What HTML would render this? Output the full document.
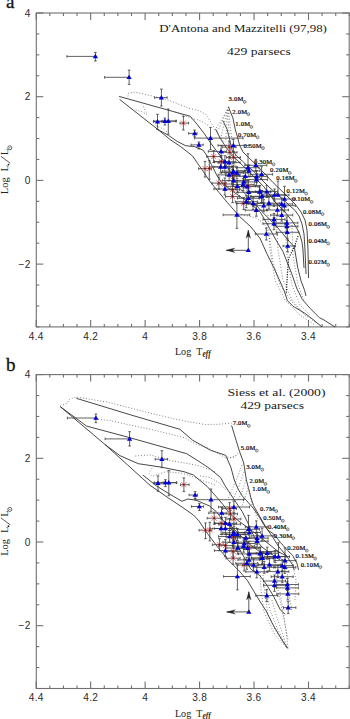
<!DOCTYPE html><html><head><meta charset="utf-8"><style>html,body{margin:0;padding:0;background:#fff;width:350px;height:719px;overflow:hidden}svg{display:block}.tl{font-family:"Liberation Sans",sans-serif;font-size:10.1px;letter-spacing:0.3px;fill:#2a2a2a}.al{font-family:"Liberation Serif",serif;font-size:10px;fill:#222}.pl{font-family:"Liberation Serif",serif;font-size:19px;fill:#111;stroke:#111;stroke-width:0.3px}.ml{font-family:"Liberation Serif",serif;font-size:6.6px;letter-spacing:0.2px;fill:#000;stroke:#000;stroke-width:0.2px}.tt{font-family:"Liberation Serif",serif;font-size:9.9px;fill:#1a1a1a}</style></head><body><svg width="350" height="719" viewBox="0 0 350 719">
<g stroke="#707070" stroke-width="1.1" fill="none"><rect x="36.3" y="13.0" width="312.9" height="313.9" fill="none" stroke="#707070" stroke-width="1.1"/><line x1="36.20" y1="13.0" x2="36.20" y2="20.0"/><line x1="36.20" y1="326.9" x2="36.20" y2="319.9"/><line x1="49.81" y1="13.0" x2="49.81" y2="16.0"/><line x1="49.81" y1="326.9" x2="49.81" y2="323.9"/><line x1="63.43" y1="13.0" x2="63.43" y2="16.0"/><line x1="63.43" y1="326.9" x2="63.43" y2="323.9"/><line x1="77.05" y1="13.0" x2="77.05" y2="16.0"/><line x1="77.05" y1="326.9" x2="77.05" y2="323.9"/><line x1="90.66" y1="13.0" x2="90.66" y2="20.0"/><line x1="90.66" y1="326.9" x2="90.66" y2="319.9"/><line x1="104.28" y1="13.0" x2="104.28" y2="16.0"/><line x1="104.28" y1="326.9" x2="104.28" y2="323.9"/><line x1="117.89" y1="13.0" x2="117.89" y2="16.0"/><line x1="117.89" y1="326.9" x2="117.89" y2="323.9"/><line x1="131.50" y1="13.0" x2="131.50" y2="16.0"/><line x1="131.50" y1="326.9" x2="131.50" y2="323.9"/><line x1="145.12" y1="13.0" x2="145.12" y2="20.0"/><line x1="145.12" y1="326.9" x2="145.12" y2="319.9"/><line x1="158.74" y1="13.0" x2="158.74" y2="16.0"/><line x1="158.74" y1="326.9" x2="158.74" y2="323.9"/><line x1="172.35" y1="13.0" x2="172.35" y2="16.0"/><line x1="172.35" y1="326.9" x2="172.35" y2="323.9"/><line x1="185.96" y1="13.0" x2="185.96" y2="16.0"/><line x1="185.96" y1="326.9" x2="185.96" y2="323.9"/><line x1="199.58" y1="13.0" x2="199.58" y2="20.0"/><line x1="199.58" y1="326.9" x2="199.58" y2="319.9"/><line x1="213.19" y1="13.0" x2="213.19" y2="16.0"/><line x1="213.19" y1="326.9" x2="213.19" y2="323.9"/><line x1="226.81" y1="13.0" x2="226.81" y2="16.0"/><line x1="226.81" y1="326.9" x2="226.81" y2="323.9"/><line x1="240.43" y1="13.0" x2="240.43" y2="16.0"/><line x1="240.43" y1="326.9" x2="240.43" y2="323.9"/><line x1="254.04" y1="13.0" x2="254.04" y2="20.0"/><line x1="254.04" y1="326.9" x2="254.04" y2="319.9"/><line x1="267.66" y1="13.0" x2="267.66" y2="16.0"/><line x1="267.66" y1="326.9" x2="267.66" y2="323.9"/><line x1="281.27" y1="13.0" x2="281.27" y2="16.0"/><line x1="281.27" y1="326.9" x2="281.27" y2="323.9"/><line x1="294.89" y1="13.0" x2="294.89" y2="16.0"/><line x1="294.89" y1="326.9" x2="294.89" y2="323.9"/><line x1="308.50" y1="13.0" x2="308.50" y2="20.0"/><line x1="308.50" y1="326.9" x2="308.50" y2="319.9"/><line x1="322.11" y1="13.0" x2="322.11" y2="16.0"/><line x1="322.11" y1="326.9" x2="322.11" y2="323.9"/><line x1="335.73" y1="13.0" x2="335.73" y2="16.0"/><line x1="335.73" y1="326.9" x2="335.73" y2="323.9"/><line x1="349.35" y1="13.0" x2="349.35" y2="16.0"/><line x1="349.35" y1="326.9" x2="349.35" y2="323.9"/><line x1="36.3" y1="13.00" x2="43.3" y2="13.00"/><line x1="349.2" y1="13.00" x2="342.2" y2="13.00"/><line x1="36.3" y1="33.93" x2="39.3" y2="33.93"/><line x1="349.2" y1="33.93" x2="346.2" y2="33.93"/><line x1="36.3" y1="54.85" x2="39.3" y2="54.85"/><line x1="349.2" y1="54.85" x2="346.2" y2="54.85"/><line x1="36.3" y1="75.78" x2="39.3" y2="75.78"/><line x1="349.2" y1="75.78" x2="346.2" y2="75.78"/><line x1="36.3" y1="96.70" x2="43.3" y2="96.70"/><line x1="349.2" y1="96.70" x2="342.2" y2="96.70"/><line x1="36.3" y1="117.62" x2="39.3" y2="117.62"/><line x1="349.2" y1="117.62" x2="346.2" y2="117.62"/><line x1="36.3" y1="138.55" x2="39.3" y2="138.55"/><line x1="349.2" y1="138.55" x2="346.2" y2="138.55"/><line x1="36.3" y1="159.47" x2="39.3" y2="159.47"/><line x1="349.2" y1="159.47" x2="346.2" y2="159.47"/><line x1="36.3" y1="180.40" x2="43.3" y2="180.40"/><line x1="349.2" y1="180.40" x2="342.2" y2="180.40"/><line x1="36.3" y1="201.33" x2="39.3" y2="201.33"/><line x1="349.2" y1="201.33" x2="346.2" y2="201.33"/><line x1="36.3" y1="222.25" x2="39.3" y2="222.25"/><line x1="349.2" y1="222.25" x2="346.2" y2="222.25"/><line x1="36.3" y1="243.18" x2="39.3" y2="243.18"/><line x1="349.2" y1="243.18" x2="346.2" y2="243.18"/><line x1="36.3" y1="264.10" x2="43.3" y2="264.10"/><line x1="349.2" y1="264.10" x2="342.2" y2="264.10"/><line x1="36.3" y1="285.02" x2="39.3" y2="285.02"/><line x1="349.2" y1="285.02" x2="346.2" y2="285.02"/><line x1="36.3" y1="305.95" x2="39.3" y2="305.95"/><line x1="349.2" y1="305.95" x2="346.2" y2="305.95"/><line x1="36.3" y1="326.88" x2="39.3" y2="326.88"/><line x1="349.2" y1="326.88" x2="346.2" y2="326.88"/></g>
<text x="30.7" y="16.7" class="tl" text-anchor="end">4</text>
<text x="30.7" y="100.4" class="tl" text-anchor="end">2</text>
<text x="30.7" y="184.1" class="tl" text-anchor="end">0</text>
<text x="30.7" y="267.8" class="tl" text-anchor="end">−2</text>
<text x="36.2" y="339.7" class="tl" text-anchor="middle">4.4</text>
<text x="90.7" y="339.7" class="tl" text-anchor="middle">4.2</text>
<text x="145.1" y="339.7" class="tl" text-anchor="middle">4</text>
<text x="199.6" y="339.7" class="tl" text-anchor="middle">3.8</text>
<text x="254.0" y="339.7" class="tl" text-anchor="middle">3.6</text>
<text x="308.5" y="339.7" class="tl" text-anchor="middle">3.4</text>
<text x="174.9" y="354.9" class="al" textLength="16.3" lengthAdjust="spacingAndGlyphs">Log</text><text x="196.2" y="354.9" class="al">T</text><text x="202.6" y="357.3" class="al" font-size="5.4" font-weight="bold" font-style="italic" textLength="8" lengthAdjust="spacingAndGlyphs">eff</text>
<g transform="translate(8.0,194.2) rotate(-90)"><text x="0" y="0" class="al" textLength="16.8" lengthAdjust="spacingAndGlyphs">Log</text><text x="23" y="0" class="al">L</text><text x="39.3" y="0" class="al">L</text></g>
<path d="M10.2 163.2L0.9 156.3" stroke="#222" stroke-width="0.75"/><circle cx="8.5" cy="164.6" r="0.9" fill="#222"/>
<circle cx="9.8" cy="147.8" r="2.0" fill="none" stroke="#222" stroke-width="0.7"/><circle cx="9.8" cy="147.8" r="0.5" fill="#222"/>
<text x="6" y="7.9" class="pl">a</text>
<polyline points="119.6,99.4 158.0,129.6 170.3,139.7 180.6,146.6 192.6,156.0 197.7,163.5 203.4,171.7 210.3,182.0 218.9,192.3 227.4,202.6 239.4,216.3 250.9,226.9 260.0,238.3 266.9,253.7 273.7,267.4 279.4,280.0 284.0,290.3 287.4,300.6 293.1,306.3 304.6,313.1 313.7,320.0 322.0,327.0" fill="none" stroke="#333" stroke-width="0.9" stroke-linejoin="round"/>
<polyline points="158.0,129.6 168.6,135.4 177.1,141.4 185.7,145.7 194.3,146.6 202.9,150.0 207.1,156.0 211.4,164.6 216.6,174.9 222.0,183.0 235.0,193.0 250.0,203.0 260.6,212.6 269.7,228.6 276.0,240.0 282.9,251.4 287.4,262.9 292.0,274.3 296.6,288.0 302.3,299.4 310.3,308.6 319.4,317.7 324.0,320.0 335.0,327.0" fill="none" stroke="#333" stroke-width="0.9" stroke-linejoin="round"/>
<polyline points="119.1,96.4 190.3,116.3 197.1,124.3 204.3,133.6 210.0,142.1 214.3,148.0 221.1,156.9 228.0,168.0 240.0,188.6 251.4,200.0 262.9,212.6 274.3,224.0 282.3,233.1 288.0,240.0 294.3,246.9 297.7,267.4 301.1,281.1 304.6,290.3 306.0,296.0" fill="none" stroke="#333" stroke-width="0.9" stroke-linejoin="round"/>
<polyline points="228.3,106.6 232.9,117.9 235.4,130.0 237.5,137.0 239.5,145.0 243.0,152.0 248.6,157.5 256.3,165.0 264.0,173.0 273.0,182.5 287.0,196.0 295.0,204.0 301.0,212.0 305.0,220.0 307.0,230.0 308.0,250.0 308.5,278.0" fill="none" stroke="#333" stroke-width="0.9" stroke-linejoin="round"/>
<polyline points="222.9,120.7 227.1,129.3 232.0,149.4 236.6,156.0 242.3,161.0 247.0,165.5 255.0,172.5 262.0,180.0 270.0,188.0 277.0,194.0 285.7,202.0 294.9,210.3 299.0,216.0 302.0,224.0 304.0,234.0 305.0,250.0 306.0,274.0" fill="none" stroke="#333" stroke-width="0.9" stroke-linejoin="round"/>
<polyline points="215.7,129.3 220.0,137.9 226.4,147.9 235.0,157.9 243.6,166.4 255.0,177.9 263.6,186.4 275.0,202.0 285.0,212.0 293.0,222.0 299.0,232.0 302.0,242.0 303.0,250.0 304.0,268.0" fill="none" stroke="#333" stroke-width="0.9" stroke-linejoin="round"/>
<polyline points="127.9,96.4 128.6,92.9 134.3,92.1 148.6,95.0 170.0,100.7 190.0,108.6 198.6,110.7 205.7,114.3 210.0,120.7 214.3,127.9 219.4,136.0 225.0,143.0" fill="none" stroke="#555" stroke-width="0.8" stroke-dasharray="0.9 2"/>
<polyline points="135.7,110.0 141.4,111.4 146.4,114.3 148.6,116.4" fill="none" stroke="#555" stroke-width="0.8" stroke-dasharray="0.9 2"/>
<polyline points="155.7,125.7 162.9,128.6 168.6,132.9" fill="none" stroke="#555" stroke-width="0.8" stroke-dasharray="0.9 2"/>
<polyline points="175.0,112.0 190.0,117.9 198.6,120.0 204.3,122.9 209.3,126.4" fill="none" stroke="#555" stroke-width="0.8" stroke-dasharray="0.9 2"/>
<polyline points="143.6,106.4 145.0,110.0 147.1,113.6" fill="none" stroke="#555" stroke-width="0.8" stroke-dasharray="0.9 2"/>
<polyline points="228.6,107.1 224.3,116.4 218.6,129.3 216.4,132.1" fill="none" stroke="#555" stroke-width="0.8" stroke-dasharray="0.9 2"/>
<polyline points="228.6,107.1 227.1,117.9 226.4,129.3 225.7,142.1" fill="none" stroke="#555" stroke-width="0.8" stroke-dasharray="0.9 2"/>
<polyline points="228.6,107.1 230.0,125.0 232.0,140.0" fill="none" stroke="#555" stroke-width="0.8" stroke-dasharray="0.9 2"/>
<polyline points="228.6,107.1 221.0,121.0 214.0,131.0" fill="none" stroke="#555" stroke-width="0.8" stroke-dasharray="0.9 2"/>
<polyline points="228.6,107.1 225.0,120.0 222.0,133.0 220.0,140.0" fill="none" stroke="#555" stroke-width="0.8" stroke-dasharray="0.9 2"/>
<polyline points="228.6,107.1 228.0,118.0 229.0,132.0 230.0,145.0" fill="none" stroke="#555" stroke-width="0.8" stroke-dasharray="0.9 2"/>
<polyline points="268.0,215.0 270.0,250.0 275.0,280.0 285.0,300.0 300.0,315.0 315.0,325.0" fill="none" stroke="#555" stroke-width="0.8" stroke-dasharray="0.9 2"/>
<polyline points="276.0,215.0 278.0,250.0 283.0,280.0 292.0,300.0 305.0,315.0 318.0,324.0" fill="none" stroke="#555" stroke-width="0.8" stroke-dasharray="0.9 2"/>
<polyline points="285.0,225.0 287.0,255.0 292.0,285.0 300.0,305.0 310.0,315.0" fill="none" stroke="#555" stroke-width="0.8" stroke-dasharray="0.9 2"/>
<polyline points="292.0,225.0 293.0,255.0 298.0,285.0 304.0,300.0" fill="none" stroke="#555" stroke-width="0.8" stroke-dasharray="0.9 2"/>
<polyline points="238.6,213.7 256.6,218.0 266.0,226.0 270.0,240.0 273.0,262.0 280.0,285.0 292.0,302.0 305.0,315.0" fill="none" stroke="#555" stroke-width="0.8" stroke-dasharray="0.9 2"/>
<polyline points="298.0,236.0 294.3,246.9 288.6,258.3 287.4,274.3 286.3,292.6" fill="none" stroke="#222" stroke-width="1.2" stroke-dasharray="1.2 1.3"/>
<text x="228.6" y="101.4" class="ml">3.0M</text>
<circle cx="244.7" cy="101.9" r="1.4" fill="none" stroke="#222" stroke-width="0.6"/><circle cx="244.7" cy="101.9" r="0.35" fill="#222"/>
<text x="232.3" y="113.7" class="ml">2.0M</text>
<circle cx="248.4" cy="114.2" r="1.4" fill="none" stroke="#222" stroke-width="0.6"/><circle cx="248.4" cy="114.2" r="0.35" fill="#222"/>
<text x="235.3" y="126.4" class="ml">1.0M</text>
<circle cx="251.4" cy="126.9" r="1.4" fill="none" stroke="#222" stroke-width="0.6"/><circle cx="251.4" cy="126.9" r="0.35" fill="#222"/>
<text x="238.0" y="136.8" class="ml">0.70M</text>
<circle cx="257.6" cy="137.3" r="1.4" fill="none" stroke="#222" stroke-width="0.6"/><circle cx="257.6" cy="137.3" r="0.35" fill="#222"/>
<text x="243.4" y="147.6" class="ml">0.50M</text>
<circle cx="263.0" cy="148.1" r="1.4" fill="none" stroke="#222" stroke-width="0.6"/><circle cx="263.0" cy="148.1" r="0.35" fill="#222"/>
<text x="254.0" y="163.8" class="ml">0.30M</text>
<circle cx="273.6" cy="164.3" r="1.4" fill="none" stroke="#222" stroke-width="0.6"/><circle cx="273.6" cy="164.3" r="0.35" fill="#222"/>
<text x="270.1" y="172.4" class="ml">0.20M</text>
<circle cx="289.7" cy="172.9" r="1.4" fill="none" stroke="#222" stroke-width="0.6"/><circle cx="289.7" cy="172.9" r="0.35" fill="#222"/>
<text x="276.3" y="180.4" class="ml">0.16M</text>
<circle cx="295.9" cy="180.9" r="1.4" fill="none" stroke="#222" stroke-width="0.6"/><circle cx="295.9" cy="180.9" r="0.35" fill="#222"/>
<text x="286.6" y="193.1" class="ml">0.12M</text>
<circle cx="306.2" cy="193.6" r="1.4" fill="none" stroke="#222" stroke-width="0.6"/><circle cx="306.2" cy="193.6" r="0.35" fill="#222"/>
<text x="292.0" y="201.4" class="ml">0.10M</text>
<circle cx="311.6" cy="201.9" r="1.4" fill="none" stroke="#222" stroke-width="0.6"/><circle cx="311.6" cy="201.9" r="0.35" fill="#222"/>
<text x="303.0" y="213.6" class="ml">0.08M</text>
<circle cx="322.6" cy="214.1" r="1.4" fill="none" stroke="#222" stroke-width="0.6"/><circle cx="322.6" cy="214.1" r="0.35" fill="#222"/>
<text x="308.6" y="226.4" class="ml">0.06M</text>
<circle cx="328.2" cy="226.9" r="1.4" fill="none" stroke="#222" stroke-width="0.6"/><circle cx="328.2" cy="226.9" r="0.35" fill="#222"/>
<text x="308.6" y="243.0" class="ml">0.04M</text>
<circle cx="328.2" cy="243.5" r="1.4" fill="none" stroke="#222" stroke-width="0.6"/><circle cx="328.2" cy="243.5" r="0.35" fill="#222"/>
<text x="308.6" y="264.3" class="ml">0.02M</text>
<circle cx="328.2" cy="264.8" r="1.4" fill="none" stroke="#222" stroke-width="0.6"/><circle cx="328.2" cy="264.8" r="0.35" fill="#222"/>
<path d="M248.3 250.3V230.3M248.3 250.3H226.3" fill="none" stroke="#333" stroke-width="0.8"/>
<path d="M248.3 230.0L246.0 238.3L248.3 235.8L250.60000000000002 238.3Z M226.0 250.3L234.8 248.10000000000002L232.3 250.3L234.8 252.5Z" fill="#222" stroke="#222" stroke-width="0.3"/>
<path d="M66.9 56.4H95.4M95.4 52.4V61.0M94.1 52.4h2.6M94.1 61.0h2.6M66.9 55.1v2.6M95.4 55.1v2.6M104.6 77.3H129.1M129.1 70.1V84.4M127.8 70.1h2.6M127.8 84.4h2.6M104.6 76.0v2.6M129.1 76.0v2.6M154.6 97.6H167.1M161.4 89.1V106.0M160.1 89.1h2.6M160.1 106.0h2.6M154.6 96.3v2.6M167.1 96.3v2.6M153.4 121.6H161.4M157.5 114.3V129.6M156.2 114.3h2.6M156.2 129.6h2.6M153.4 120.3v2.6M161.4 120.3v2.6M153.9 121.1H175.9M164.9 118.1V125.0M163.6 118.1h2.6M163.6 125.0h2.6M153.9 119.8v2.6M175.9 119.8v2.6M162.6 121.1H176.3M168.3 109.0V134.1M167.0 109.0h2.6M167.0 134.1h2.6M162.6 119.8v2.6M176.3 119.8v2.6M180.0 123.1H188.6M183.4 116.3V130.0M182.1 116.3h2.6M182.1 130.0h2.6M180.0 121.8v2.6M188.6 121.8v2.6M188.6 133.4H197.1M194.6 130.0V136.9M193.3 130.0h2.6M193.3 136.9h2.6M188.6 132.1v2.6M197.1 132.1v2.6M191.1 144.9H203.1M198.9 142.0V148.9M197.6 142.0h2.6M197.6 148.9h2.6M191.1 143.6v2.6M203.1 143.6v2.6M194.6 138.1H243.0M210.5 127.4V149.7M209.2 127.4h2.6M209.2 149.7h2.6M194.6 136.8v2.6M243.0 136.8v2.6M208.3 151.4H226.3M221.1 145.4V157.4M219.8 145.4h2.6M219.8 157.4h2.6M208.3 150.1v2.6M226.3 150.1v2.6M218.0 145.4H249.0M233.4 139.4V151.4M232.1 139.4h2.6M232.1 151.4h2.6M218.0 144.1v2.6M249.0 144.1v2.6M213.9 161.7H235.9M224.9 155.7V167.7M223.6 155.7h2.6M223.6 167.7h2.6M213.9 160.4v2.6M235.9 160.4v2.6M218.1 162.6H240.1M229.1 156.6V168.6M227.8 156.6h2.6M227.8 168.6h2.6M218.1 161.3v2.6M240.1 161.3v2.6M209.6 166.9H231.6M220.6 160.9V172.9M219.3 160.9h2.6M219.3 172.9h2.6M209.6 165.6v2.6M231.6 165.6v2.6M213.9 166.9H235.9M224.9 160.9V172.9M223.6 160.9h2.6M223.6 172.9h2.6M213.9 165.6v2.6M235.9 165.6v2.6M222.4 171.1H244.4M233.4 165.1V177.1M232.1 165.1h2.6M232.1 177.1h2.6M222.4 169.8v2.6M244.4 169.8v2.6M225.9 172.9H247.9M236.9 166.9V178.9M235.6 166.9h2.6M235.6 178.9h2.6M225.9 171.6v2.6M247.9 171.6v2.6M218.1 174.9H240.1M229.1 168.9V180.9M227.8 168.9h2.6M227.8 180.9h2.6M218.1 173.6v2.6M240.1 173.6v2.6M222.4 180.6H244.4M233.4 174.6V186.6M232.1 174.6h2.6M232.1 186.6h2.6M222.4 179.3v2.6M244.4 179.3v2.6M237.0 167.7H259.0M248.0 153.7V169.1M246.7 153.7h2.6M246.7 169.1h2.6M237.0 166.4v2.6M259.0 166.4v2.6M237.9 170.9H259.9M248.9 164.9V176.9M247.6 164.9h2.6M247.6 176.9h2.6M237.9 169.6v2.6M259.9 169.6v2.6M244.8 165.3H266.8M255.8 159.3V171.3M254.5 159.3h2.6M254.5 171.3h2.6M244.8 164.0v2.6M266.8 164.0v2.6M234.4 176.3H256.4M245.4 170.3V182.3M244.1 170.3h2.6M244.1 182.3h2.6M234.4 175.0v2.6M256.4 175.0v2.6M245.6 176.6H267.6M256.6 170.6V182.6M255.3 170.6h2.6M255.3 182.6h2.6M245.6 175.3v2.6M267.6 175.3v2.6M245.6 179.6H267.6M256.6 173.6V185.6M255.3 173.6h2.6M255.3 185.6h2.6M245.6 178.3v2.6M267.6 178.3v2.6M232.7 181.9H254.7M243.7 175.9V187.9M242.4 175.9h2.6M242.4 187.9h2.6M232.7 180.6v2.6M254.7 180.6v2.6M232.2 184.6H254.2M243.2 178.6V190.6M241.9 178.6h2.6M241.9 190.6h2.6M232.2 183.3v2.6M254.2 183.3v2.6M226.2 186.4H248.2M237.2 180.4V192.4M235.9 180.4h2.6M235.9 192.4h2.6M226.2 185.1v2.6M248.2 185.1v2.6M213.9 189.0H235.9M224.9 183.0V195.0M223.6 183.0h2.6M223.6 195.0h2.6M213.9 187.7v2.6M235.9 187.7v2.6M236.1 186.6H258.1M247.1 180.6V192.6M245.8 180.6h2.6M245.8 192.6h2.6M236.1 185.3v2.6M258.1 185.3v2.6M250.6 174.3H272.6M261.6 166.6V179.4M260.3 166.6h2.6M260.3 179.4h2.6M250.6 173.0v2.6M272.6 173.0v2.6M248.9 191.4H270.9M259.9 185.4V197.4M258.6 185.4h2.6M258.6 197.4h2.6M248.9 190.1v2.6M270.9 190.1v2.6M255.7 191.6H277.7M266.7 185.6V197.6M265.4 185.6h2.6M265.4 197.6h2.6M255.7 190.3v2.6M277.7 190.3v2.6M237.8 192.3H259.8M248.8 186.3V198.3M247.5 186.3h2.6M247.5 198.3h2.6M237.8 191.0v2.6M259.8 191.0v2.6M263.6 195.0H285.6M274.6 189.0V201.0M273.3 189.0h2.6M273.3 201.0h2.6M263.6 193.7v2.6M285.6 193.7v2.6M267.0 195.0H289.0M278.0 181.1V194.9M276.7 181.1h2.6M276.7 194.9h2.6M267.0 193.7v2.6M289.0 193.7v2.6M250.6 196.6H272.6M261.6 190.6V202.6M260.3 190.6h2.6M260.3 202.6h2.6M250.6 195.3v2.6M272.6 195.3v2.6M237.4 198.3H259.4M248.4 192.3V204.3M247.1 192.3h2.6M247.1 204.3h2.6M237.4 197.0v2.6M259.4 197.0v2.6M273.5 199.0H295.5M284.5 186.3V199.0M283.2 186.3h2.6M283.2 199.0h2.6M273.5 197.7v2.6M295.5 197.7v2.6M235.3 201.7H257.3M246.3 195.7V207.7M245.0 195.7h2.6M245.0 207.7h2.6M235.3 200.4v2.6M257.3 200.4v2.6M242.1 203.4H264.1M253.1 197.4V209.4M251.8 197.4h2.6M251.8 209.4h2.6M242.1 202.1v2.6M264.1 202.1v2.6M245.3 210.2H267.3M256.3 204.2V216.2M255.0 204.2h2.6M255.0 216.2h2.6M245.3 208.9v2.6M267.3 208.9v2.6M223.1 214.9H249.7M236.9 203.4V228.3M235.6 203.4h2.6M235.6 228.3h2.6M223.1 213.6v2.6M249.7 213.6v2.6M257.9 203.1H279.9M268.9 197.1V209.1M267.6 197.1h2.6M267.6 209.1h2.6M257.9 201.8v2.6M279.9 201.8v2.6M252.7 205.7H274.7M263.7 199.7V211.7M262.4 199.7h2.6M262.4 211.7h2.6M252.7 204.4v2.6M274.7 204.4v2.6M270.7 204.0H292.7M281.7 198.0V210.0M280.4 198.0h2.6M280.4 210.0h2.6M270.7 202.7v2.6M292.7 202.7v2.6M273.3 205.7H295.3M284.3 199.7V211.7M283.0 199.7h2.6M283.0 211.7h2.6M273.3 204.4v2.6M295.3 204.4v2.6M266.4 210.0H288.4M277.4 204.0V216.0M276.1 204.0h2.6M276.1 216.0h2.6M266.4 208.7v2.6M288.4 208.7v2.6M270.7 215.1H292.7M281.7 209.1V221.1M280.4 209.1h2.6M280.4 221.1h2.6M270.7 213.8v2.6M292.7 213.8v2.6M263.0 219.4H285.0M274.0 213.4V225.4M272.7 213.4h2.6M272.7 225.4h2.6M263.0 218.1v2.6M285.0 218.1v2.6M263.0 223.7H285.0M274.0 217.7V229.7M272.7 217.7h2.6M272.7 229.7h2.6M263.0 222.4v2.6M285.0 222.4v2.6M275.9 222.9H297.9M286.9 216.9V228.9M285.6 216.9h2.6M285.6 228.9h2.6M275.9 221.6v2.6M297.9 221.6v2.6M275.9 226.3H297.9M286.9 220.3V232.3M285.6 220.3h2.6M285.6 232.3h2.6M275.9 225.0v2.6M297.9 225.0v2.6M276.3 232.3H298.3M287.3 226.3V238.3M286.0 226.3h2.6M286.0 238.3h2.6M276.3 231.0v2.6M298.3 231.0v2.6M255.3 234.0H277.3M266.3 228.0V240.0M265.0 228.0h2.6M265.0 240.0h2.6M255.3 232.7v2.6M277.3 232.7v2.6M283.0 246.0H295.4M287.7 240.0V252.0M286.4 240.0h2.6M286.4 252.0h2.6M283.0 244.7v2.6M295.4 244.7v2.6M248.4 192.0H270.4M259.4 186.0V198.0M258.1 186.0h2.6M258.1 198.0h2.6M248.4 190.7v2.6M270.4 190.7v2.6M251.0 196.3H273.0M262.0 190.3V202.3M260.7 190.3h2.6M260.7 202.3h2.6M251.0 195.0v2.6M273.0 195.0v2.6M221.6 172.6H243.6M232.6 166.6V178.6M231.3 166.6h2.6M231.3 178.6h2.6M221.6 171.3v2.6M243.6 171.3v2.6M222.1 147.1H236.1M229.1 141.1V153.1M227.8 141.1h2.6M227.8 153.1h2.6M222.1 145.8v2.6M236.1 145.8v2.6M223.0 152.3H237.0M230.0 146.3V158.3M228.7 146.3h2.6M228.7 158.3h2.6M223.0 151.0v2.6M237.0 151.0v2.6M226.4 157.4H240.4M233.4 151.4V163.4M232.1 151.4h2.6M232.1 163.4h2.6M226.4 156.1v2.6M240.4 156.1v2.6M206.7 156.6H220.7M213.7 150.6V162.6M212.4 150.6h2.6M212.4 162.6h2.6M206.7 155.3v2.6M220.7 155.3v2.6M214.4 161.7H228.4M221.4 155.7V167.7M220.1 155.7h2.6M220.1 167.7h2.6M214.4 160.4v2.6M228.4 160.4v2.6M198.6 168.6H211.4M205.0 161.4V177.1M203.7 161.4h2.6M203.7 177.1h2.6M198.6 167.3v2.6M211.4 167.3v2.6M209.3 168.6H209.3M209.3 160.7V179.3M208.0 160.7h2.6M208.0 179.3h2.6M209.3 167.3v2.6M209.3 167.3v2.6M225.6 175.4H239.6M232.6 169.4V181.4M231.3 169.4h2.6M231.3 181.4h2.6M225.6 174.1v2.6M239.6 174.1v2.6M211.9 183.1H225.9M218.9 177.1V189.1M217.6 177.1h2.6M217.6 189.1h2.6M211.9 181.8v2.6M225.9 181.8v2.6M217.9 184.0H231.9M224.9 178.0V190.0M223.6 178.0h2.6M223.6 190.0h2.6M217.9 182.7v2.6M231.9 182.7v2.6M241.5 186.0H255.5M248.5 180.0V192.0M247.2 180.0h2.6M247.2 192.0h2.6M241.5 184.7v2.6M255.5 184.7v2.6M225.6 189.7H239.6M232.6 183.7V195.7M231.3 183.7h2.6M231.3 195.7h2.6M225.6 188.4v2.6M239.6 188.4v2.6M225.6 196.6H239.6M232.6 190.6V202.6M231.3 190.6h2.6M231.3 202.6h2.6M225.6 195.3v2.6M239.6 195.3v2.6M236.7 203.4H250.7M243.7 197.4V209.4M242.4 197.4h2.6M242.4 209.4h2.6M236.7 202.1v2.6M250.7 202.1v2.6" fill="none" stroke="#3a3a3a" stroke-width="0.8"/>
<path d="M180.9 120.6L185.9 125.6M185.9 120.6L180.9 125.6M226.6 144.6L231.6 149.6M231.6 144.6L226.6 149.6M227.5 149.8L232.5 154.8M232.5 149.8L227.5 154.8M230.9 154.9L235.9 159.9M235.9 154.9L230.9 159.9M211.2 154.1L216.2 159.1M216.2 154.1L211.2 159.1M218.9 159.2L223.9 164.2M223.9 159.2L218.9 164.2M202.5 166.1L207.5 171.1M207.5 166.1L202.5 171.1M206.8 166.1L211.8 171.1M211.8 166.1L206.8 171.1M230.1 172.9L235.1 177.9M235.1 172.9L230.1 177.9M216.4 180.6L221.4 185.6M221.4 180.6L216.4 185.6M222.4 181.5L227.4 186.5M227.4 181.5L222.4 186.5M246.0 183.5L251.0 188.5M251.0 183.5L246.0 188.5M230.1 187.2L235.1 192.2M235.1 187.2L230.1 192.2M230.1 194.1L235.1 199.1M235.1 194.1L230.1 199.1M241.2 200.9L246.2 205.9M246.2 200.9L241.2 205.9" fill="none" stroke="#f06a6a" stroke-width="1"/>
<circle cx="183.4" cy="123.1" r="0.9" fill="#700"/><circle cx="229.1" cy="147.1" r="0.9" fill="#700"/><circle cx="230.0" cy="152.3" r="0.9" fill="#700"/><circle cx="233.4" cy="157.4" r="0.9" fill="#700"/><circle cx="213.7" cy="156.6" r="0.9" fill="#700"/><circle cx="221.4" cy="161.7" r="0.9" fill="#700"/><circle cx="205.0" cy="168.6" r="0.9" fill="#700"/><circle cx="209.3" cy="168.6" r="0.9" fill="#700"/><circle cx="232.6" cy="175.4" r="0.9" fill="#700"/><circle cx="218.9" cy="183.1" r="0.9" fill="#700"/><circle cx="224.9" cy="184.0" r="0.9" fill="#700"/><circle cx="248.5" cy="186.0" r="0.9" fill="#700"/><circle cx="232.6" cy="189.7" r="0.9" fill="#700"/><circle cx="232.6" cy="196.6" r="0.9" fill="#700"/><circle cx="243.7" cy="203.4" r="0.9" fill="#700"/>
<path d="M95.4 53.8L98.0 58.2L92.8 58.2ZM129.1 74.7L131.7 79.1L126.5 79.1ZM161.4 95.0L164.0 99.4L158.8 99.4ZM157.5 119.0L160.1 123.4L154.9 123.4ZM164.9 118.5L167.5 122.9L162.3 122.9ZM168.3 118.5L170.9 122.9L165.7 122.9ZM194.6 130.8L197.2 135.2L192.0 135.2ZM198.9 142.3L201.5 146.7L196.3 146.7ZM210.5 135.5L213.1 139.9L207.9 139.9ZM221.1 148.8L223.7 153.2L218.5 153.2ZM233.4 142.8L236.0 147.2L230.8 147.2ZM224.9 159.1L227.5 163.5L222.3 163.5ZM229.1 160.0L231.7 164.4L226.5 164.4ZM220.6 164.3L223.2 168.7L218.0 168.7ZM224.9 164.3L227.5 168.7L222.3 168.7ZM233.4 168.5L236.0 172.9L230.8 172.9ZM236.9 170.3L239.5 174.7L234.3 174.7ZM229.1 172.3L231.7 176.7L226.5 176.7ZM233.4 178.0L236.0 182.4L230.8 182.4ZM248.0 165.1L250.6 169.5L245.4 169.5ZM248.9 168.3L251.5 172.7L246.3 172.7ZM255.8 162.7L258.4 167.1L253.2 167.1ZM245.4 173.7L248.0 178.1L242.8 178.1ZM256.6 174.0L259.2 178.4L254.0 178.4ZM256.6 177.0L259.2 181.4L254.0 181.4ZM243.7 179.3L246.3 183.7L241.1 183.7ZM243.2 182.0L245.8 186.4L240.6 186.4ZM237.2 183.8L239.8 188.2L234.6 188.2ZM224.9 186.4L227.5 190.8L222.3 190.8ZM247.1 184.0L249.7 188.4L244.5 188.4ZM261.6 171.7L264.2 176.1L259.0 176.1ZM259.9 188.8L262.5 193.2L257.3 193.2ZM266.7 189.0L269.3 193.4L264.1 193.4ZM248.8 189.7L251.4 194.1L246.2 194.1ZM274.6 192.4L277.2 196.8L272.0 196.8ZM278.0 192.4L280.6 196.8L275.4 196.8ZM261.6 194.0L264.2 198.4L259.0 198.4ZM248.4 195.7L251.0 200.1L245.8 200.1ZM284.5 196.4L287.1 200.8L281.9 200.8ZM246.3 199.1L248.9 203.5L243.7 203.5ZM253.1 200.8L255.7 205.2L250.5 205.2ZM256.3 207.6L258.9 212.0L253.7 212.0ZM236.9 212.3L239.5 216.7L234.3 216.7ZM268.9 200.5L271.5 204.9L266.3 204.9ZM263.7 203.1L266.3 207.5L261.1 207.5ZM281.7 201.4L284.3 205.8L279.1 205.8ZM284.3 203.1L286.9 207.5L281.7 207.5ZM277.4 207.4L280.0 211.8L274.8 211.8ZM281.7 212.5L284.3 216.9L279.1 216.9ZM274.0 216.8L276.6 221.2L271.4 221.2ZM274.0 221.1L276.6 225.5L271.4 225.5ZM286.9 220.3L289.5 224.7L284.3 224.7ZM286.9 223.7L289.5 228.1L284.3 228.1ZM287.3 229.7L289.9 234.1L284.7 234.1ZM266.3 231.4L268.9 235.8L263.7 235.8ZM287.7 243.4L290.3 247.8L285.1 247.8ZM259.4 189.4L262.0 193.8L256.8 193.8ZM262.0 193.7L264.6 198.1L259.4 198.1ZM232.6 170.0L235.2 174.4L230.0 174.4ZM248.3 247.7L250.9 252.1L245.7 252.1Z" fill="#0000dc" stroke="none"/>
<g stroke="#707070" stroke-width="1.1" fill="none"><rect x="36.3" y="374.6" width="312.9" height="313.9" fill="none" stroke="#707070" stroke-width="1.1"/><line x1="36.20" y1="374.6" x2="36.20" y2="381.6"/><line x1="36.20" y1="688.5" x2="36.20" y2="681.5"/><line x1="49.81" y1="374.6" x2="49.81" y2="377.6"/><line x1="49.81" y1="688.5" x2="49.81" y2="685.5"/><line x1="63.43" y1="374.6" x2="63.43" y2="377.6"/><line x1="63.43" y1="688.5" x2="63.43" y2="685.5"/><line x1="77.05" y1="374.6" x2="77.05" y2="377.6"/><line x1="77.05" y1="688.5" x2="77.05" y2="685.5"/><line x1="90.66" y1="374.6" x2="90.66" y2="381.6"/><line x1="90.66" y1="688.5" x2="90.66" y2="681.5"/><line x1="104.28" y1="374.6" x2="104.28" y2="377.6"/><line x1="104.28" y1="688.5" x2="104.28" y2="685.5"/><line x1="117.89" y1="374.6" x2="117.89" y2="377.6"/><line x1="117.89" y1="688.5" x2="117.89" y2="685.5"/><line x1="131.50" y1="374.6" x2="131.50" y2="377.6"/><line x1="131.50" y1="688.5" x2="131.50" y2="685.5"/><line x1="145.12" y1="374.6" x2="145.12" y2="381.6"/><line x1="145.12" y1="688.5" x2="145.12" y2="681.5"/><line x1="158.74" y1="374.6" x2="158.74" y2="377.6"/><line x1="158.74" y1="688.5" x2="158.74" y2="685.5"/><line x1="172.35" y1="374.6" x2="172.35" y2="377.6"/><line x1="172.35" y1="688.5" x2="172.35" y2="685.5"/><line x1="185.96" y1="374.6" x2="185.96" y2="377.6"/><line x1="185.96" y1="688.5" x2="185.96" y2="685.5"/><line x1="199.58" y1="374.6" x2="199.58" y2="381.6"/><line x1="199.58" y1="688.5" x2="199.58" y2="681.5"/><line x1="213.19" y1="374.6" x2="213.19" y2="377.6"/><line x1="213.19" y1="688.5" x2="213.19" y2="685.5"/><line x1="226.81" y1="374.6" x2="226.81" y2="377.6"/><line x1="226.81" y1="688.5" x2="226.81" y2="685.5"/><line x1="240.43" y1="374.6" x2="240.43" y2="377.6"/><line x1="240.43" y1="688.5" x2="240.43" y2="685.5"/><line x1="254.04" y1="374.6" x2="254.04" y2="381.6"/><line x1="254.04" y1="688.5" x2="254.04" y2="681.5"/><line x1="267.66" y1="374.6" x2="267.66" y2="377.6"/><line x1="267.66" y1="688.5" x2="267.66" y2="685.5"/><line x1="281.27" y1="374.6" x2="281.27" y2="377.6"/><line x1="281.27" y1="688.5" x2="281.27" y2="685.5"/><line x1="294.89" y1="374.6" x2="294.89" y2="377.6"/><line x1="294.89" y1="688.5" x2="294.89" y2="685.5"/><line x1="308.50" y1="374.6" x2="308.50" y2="381.6"/><line x1="308.50" y1="688.5" x2="308.50" y2="681.5"/><line x1="322.11" y1="374.6" x2="322.11" y2="377.6"/><line x1="322.11" y1="688.5" x2="322.11" y2="685.5"/><line x1="335.73" y1="374.6" x2="335.73" y2="377.6"/><line x1="335.73" y1="688.5" x2="335.73" y2="685.5"/><line x1="349.35" y1="374.6" x2="349.35" y2="377.6"/><line x1="349.35" y1="688.5" x2="349.35" y2="685.5"/><line x1="36.3" y1="374.60" x2="43.3" y2="374.60"/><line x1="349.2" y1="374.60" x2="342.2" y2="374.60"/><line x1="36.3" y1="395.53" x2="39.3" y2="395.53"/><line x1="349.2" y1="395.53" x2="346.2" y2="395.53"/><line x1="36.3" y1="416.45" x2="39.3" y2="416.45"/><line x1="349.2" y1="416.45" x2="346.2" y2="416.45"/><line x1="36.3" y1="437.38" x2="39.3" y2="437.38"/><line x1="349.2" y1="437.38" x2="346.2" y2="437.38"/><line x1="36.3" y1="458.30" x2="43.3" y2="458.30"/><line x1="349.2" y1="458.30" x2="342.2" y2="458.30"/><line x1="36.3" y1="479.23" x2="39.3" y2="479.23"/><line x1="349.2" y1="479.23" x2="346.2" y2="479.23"/><line x1="36.3" y1="500.15" x2="39.3" y2="500.15"/><line x1="349.2" y1="500.15" x2="346.2" y2="500.15"/><line x1="36.3" y1="521.08" x2="39.3" y2="521.08"/><line x1="349.2" y1="521.08" x2="346.2" y2="521.08"/><line x1="36.3" y1="542.00" x2="43.3" y2="542.00"/><line x1="349.2" y1="542.00" x2="342.2" y2="542.00"/><line x1="36.3" y1="562.93" x2="39.3" y2="562.93"/><line x1="349.2" y1="562.93" x2="346.2" y2="562.93"/><line x1="36.3" y1="583.85" x2="39.3" y2="583.85"/><line x1="349.2" y1="583.85" x2="346.2" y2="583.85"/><line x1="36.3" y1="604.78" x2="39.3" y2="604.78"/><line x1="349.2" y1="604.78" x2="346.2" y2="604.78"/><line x1="36.3" y1="625.70" x2="43.3" y2="625.70"/><line x1="349.2" y1="625.70" x2="342.2" y2="625.70"/><line x1="36.3" y1="646.62" x2="39.3" y2="646.62"/><line x1="349.2" y1="646.62" x2="346.2" y2="646.62"/><line x1="36.3" y1="667.55" x2="39.3" y2="667.55"/><line x1="349.2" y1="667.55" x2="346.2" y2="667.55"/><line x1="36.3" y1="688.48" x2="39.3" y2="688.48"/><line x1="349.2" y1="688.48" x2="346.2" y2="688.48"/></g>
<text x="30.7" y="378.3" class="tl" text-anchor="end">4</text>
<text x="30.7" y="462.0" class="tl" text-anchor="end">2</text>
<text x="30.7" y="545.7" class="tl" text-anchor="end">0</text>
<text x="30.7" y="629.4" class="tl" text-anchor="end">−2</text>
<text x="36.2" y="701.3" class="tl" text-anchor="middle">4.4</text>
<text x="90.7" y="701.3" class="tl" text-anchor="middle">4.2</text>
<text x="145.1" y="701.3" class="tl" text-anchor="middle">4</text>
<text x="199.6" y="701.3" class="tl" text-anchor="middle">3.8</text>
<text x="254.0" y="701.3" class="tl" text-anchor="middle">3.6</text>
<text x="308.5" y="701.3" class="tl" text-anchor="middle">3.4</text>
<text x="174.9" y="716.5" class="al" textLength="16.3" lengthAdjust="spacingAndGlyphs">Log</text><text x="196.2" y="716.5" class="al">T</text><text x="202.6" y="718.9" class="al" font-size="5.4" font-weight="bold" font-style="italic" textLength="8" lengthAdjust="spacingAndGlyphs">eff</text>
<g transform="translate(8.0,555.8) rotate(-90)"><text x="0" y="0" class="al" textLength="16.8" lengthAdjust="spacingAndGlyphs">Log</text><text x="23" y="0" class="al">L</text><text x="39.3" y="0" class="al">L</text></g>
<path d="M10.2 524.8L0.9 517.9" stroke="#222" stroke-width="0.75"/><circle cx="8.5" cy="526.2" r="0.9" fill="#222"/>
<circle cx="9.8" cy="509.4" r="2.0" fill="none" stroke="#222" stroke-width="0.7"/><circle cx="9.8" cy="509.4" r="0.5" fill="#222"/>
<text x="6" y="370.8" class="pl">b</text>
<polyline points="60.3,406.7 104.9,444.4 127.7,465.0 150.0,485.3 168.3,497.9 182.0,507.0 193.4,515.0 199.1,521.0 207.3,533.4 218.7,548.3 227.9,559.7 239.3,571.1 247.3,580.3 254.1,591.7 261.0,603.1 265.6,610.0 273.7,626.0 281.4,638.9 287.9,648.6" fill="none" stroke="#333" stroke-width="0.9" stroke-linejoin="round"/>
<polyline points="76.3,398.3 130.0,414.7 179.9,429.3 192.3,440.0 210.6,450.3 225.7,455.3 230.9,467.3 234.3,480.0 237.9,488.6 242.1,495.7 248.6,502.9 253.6,508.6 259.3,517.1 263.6,524.3 266.9,528.9 272.9,537.4 278.9,546.9 284.0,552.9 287.4,557.1 292.6,564.9 294.3,570.0" fill="none" stroke="#333" stroke-width="0.9" stroke-linejoin="round"/>
<polyline points="231.6,425.4 236.1,440.3 239.6,451.7 243.7,462.9 246.4,480.0 248.6,488.6 250.7,497.1 253.6,505.7 259.3,515.7 265.0,525.7 267.9,530.0 273.7,534.0 280.6,542.6 287.4,550.3 292.6,555.4 296.9,563.1 298.6,570.0" fill="none" stroke="#333" stroke-width="0.9" stroke-linejoin="round"/>
<polyline points="60.3,406.7 86.6,426.1 127.7,437.1 186.7,453.7 200.0,462.1 210.3,469.0 220.6,477.6 225.0,485.7 230.7,494.3 236.4,502.9 242.1,511.4 247.9,522.9 250.7,530.0 256.0,540.0 262.0,547.0 270.0,553.0 280.0,560.0" fill="none" stroke="#333" stroke-width="0.9" stroke-linejoin="round"/>
<polyline points="104.9,444.4 120.0,455.7 138.3,463.7 161.1,467.1 184.0,471.7 193.4,475.0 207.1,486.4 216.3,496.7 223.1,504.7 230.0,513.9 240.0,522.0 255.0,533.0 270.0,545.0 280.0,553.0" fill="none" stroke="#333" stroke-width="0.9" stroke-linejoin="round"/>
<polyline points="142.9,475.1 156.6,486.0 168.3,493.3 182.0,501.3 187.7,499.0 195.7,500.1 209.4,505.9 216.3,511.6 223.1,520.7 230.0,525.3 240.0,535.0 250.7,545.0 260.0,552.0 277.1,551.1 287.4,556.3" fill="none" stroke="#333" stroke-width="0.9" stroke-linejoin="round"/>
<polyline points="230.0,525.3 240.0,550.0 250.7,568.9 259.9,575.7 266.7,584.9 273.6,596.3 280.4,610.0 285.3,614.4" fill="none" stroke="#333" stroke-width="0.9" stroke-linejoin="round"/>
<polyline points="60.3,406.0 67.1,403.3 69.4,399.2 76.3,397.0 107.1,402.1 130.0,407.9 152.4,413.7 182.1,420.6 205.0,424.5 217.9,424.3 231.6,423.1" fill="none" stroke="#555" stroke-width="0.8" stroke-dasharray="0.9 2"/>
<polyline points="98.0,419.3 109.4,420.4 130.0,425.0 152.4,429.7 184.4,437.7 195.0,443.7 208.7,448.3 227.0,458.6 235.0,456.3 239.6,451.7" fill="none" stroke="#555" stroke-width="0.8" stroke-dasharray="0.9 2"/>
<polyline points="135.3,456.0 150.1,454.9 170.7,460.6 188.6,463.7 200.0,466.0 215.0,472.0" fill="none" stroke="#555" stroke-width="0.8" stroke-dasharray="0.9 2"/>
<polyline points="227.4,457.0 232.6,457.9 236.9,455.3" fill="none" stroke="#555" stroke-width="0.8" stroke-dasharray="0.9 2"/>
<polyline points="200.0,475.9 210.3,477.6 218.9,482.7 225.7,489.6" fill="none" stroke="#555" stroke-width="0.8" stroke-dasharray="0.9 2"/>
<polyline points="152.0,468.3 148.6,472.9 152.0,476.3 165.7,471.7 179.4,472.9 188.6,475.1 200.0,479.7 215.0,485.0" fill="none" stroke="#555" stroke-width="0.8" stroke-dasharray="0.9 2"/>
<polyline points="242.0,465.0 236.0,481.0 231.0,492.0 228.0,498.0" fill="none" stroke="#555" stroke-width="0.8" stroke-dasharray="0.9 2"/>
<polyline points="244.0,472.0 239.0,486.0 235.0,495.0 232.0,502.0" fill="none" stroke="#555" stroke-width="0.8" stroke-dasharray="0.9 2"/>
<polyline points="246.0,480.0 242.0,492.0 238.0,500.0" fill="none" stroke="#555" stroke-width="0.8" stroke-dasharray="0.9 2"/>
<polyline points="248.0,488.0 245.0,498.0 242.0,506.0" fill="none" stroke="#555" stroke-width="0.8" stroke-dasharray="0.9 2"/>
<polyline points="249.1,490.0 252.0,505.0 258.0,520.0" fill="none" stroke="#555" stroke-width="0.8" stroke-dasharray="0.9 2"/>
<polyline points="286.0,560.0 288.0,580.0 290.0,600.0 292.0,612.0" fill="none" stroke="#555" stroke-width="0.8" stroke-dasharray="0.9 2"/>
<polyline points="276.0,570.0 278.0,590.0 282.0,610.0 288.0,640.0" fill="none" stroke="#555" stroke-width="0.8" stroke-dasharray="0.9 2"/>
<polyline points="266.0,590.0 270.0,610.0 278.0,630.0 287.0,648.0" fill="none" stroke="#555" stroke-width="0.8" stroke-dasharray="0.9 2"/>
<polyline points="260.0,572.0 261.0,590.0 264.0,612.0 275.0,635.0 287.0,648.0" fill="none" stroke="#555" stroke-width="0.8" stroke-dasharray="0.9 2"/>
<polyline points="263.0,575.0 265.0,595.0 268.0,615.0 278.0,635.0 287.0,648.0" fill="none" stroke="#555" stroke-width="0.8" stroke-dasharray="0.9 2"/>
<polyline points="292.0,562.0 296.0,580.0 295.0,600.0" fill="none" stroke="#555" stroke-width="0.8" stroke-dasharray="0.9 2"/>
<polyline points="272.0,600.0 276.0,615.0 282.0,632.0 287.0,648.0" fill="none" stroke="#555" stroke-width="0.8" stroke-dasharray="0.9 2"/>
<polyline points="280.0,592.0 283.0,610.0 286.0,630.0 288.0,648.0" fill="none" stroke="#555" stroke-width="0.8" stroke-dasharray="0.9 2"/>
<text x="232.7" y="425.4" class="ml">7.0M</text>
<circle cx="248.8" cy="425.9" r="1.4" fill="none" stroke="#222" stroke-width="0.6"/><circle cx="248.8" cy="425.9" r="0.35" fill="#222"/>
<text x="240.7" y="450.1" class="ml">5.0M</text>
<circle cx="256.8" cy="450.6" r="1.4" fill="none" stroke="#222" stroke-width="0.6"/><circle cx="256.8" cy="450.6" r="0.35" fill="#222"/>
<text x="246.2" y="469.1" class="ml">3.0M</text>
<circle cx="262.3" cy="469.6" r="1.4" fill="none" stroke="#222" stroke-width="0.6"/><circle cx="262.3" cy="469.6" r="0.35" fill="#222"/>
<text x="249.4" y="483.4" class="ml">2.0M</text>
<circle cx="265.5" cy="483.9" r="1.4" fill="none" stroke="#222" stroke-width="0.6"/><circle cx="265.5" cy="483.9" r="0.35" fill="#222"/>
<text x="252.2" y="491.4" class="ml">1.0M</text>
<circle cx="268.3" cy="491.9" r="1.4" fill="none" stroke="#222" stroke-width="0.6"/><circle cx="268.3" cy="491.9" r="0.35" fill="#222"/>
<text x="260.1" y="510.6" class="ml">0.7M</text>
<circle cx="276.2" cy="511.1" r="1.4" fill="none" stroke="#222" stroke-width="0.6"/><circle cx="276.2" cy="511.1" r="0.35" fill="#222"/>
<text x="263.2" y="520.3" class="ml">0.50M</text>
<circle cx="282.8" cy="520.8" r="1.4" fill="none" stroke="#222" stroke-width="0.6"/><circle cx="282.8" cy="520.8" r="0.35" fill="#222"/>
<text x="268.1" y="528.8" class="ml">0.40M</text>
<circle cx="287.7" cy="529.3" r="1.4" fill="none" stroke="#222" stroke-width="0.6"/><circle cx="287.7" cy="529.3" r="0.35" fill="#222"/>
<text x="273.8" y="537.7" class="ml">0.30M</text>
<circle cx="293.4" cy="538.2" r="1.4" fill="none" stroke="#222" stroke-width="0.6"/><circle cx="293.4" cy="538.2" r="0.35" fill="#222"/>
<text x="287.2" y="550.1" class="ml">0.20M</text>
<circle cx="306.8" cy="550.6" r="1.4" fill="none" stroke="#222" stroke-width="0.6"/><circle cx="306.8" cy="550.6" r="0.35" fill="#222"/>
<text x="295.6" y="558.1" class="ml">0.13M</text>
<circle cx="315.2" cy="558.6" r="1.4" fill="none" stroke="#222" stroke-width="0.6"/><circle cx="315.2" cy="558.6" r="0.35" fill="#222"/>
<text x="300.8" y="566.6" class="ml">0.10M</text>
<circle cx="320.4" cy="567.1" r="1.4" fill="none" stroke="#222" stroke-width="0.6"/><circle cx="320.4" cy="567.1" r="0.35" fill="#222"/>
<g transform="translate(0.5,0)">
<path d="M66.9 418.0H95.4M95.4 414.0V422.6M94.1 414.0h2.6M94.1 422.6h2.6M66.9 416.7v2.6M95.4 416.7v2.6M104.6 438.9H129.1M129.1 431.7V446.0M127.8 431.7h2.6M127.8 446.0h2.6M104.6 437.6v2.6M129.1 437.6v2.6M154.6 459.2H167.1M161.4 450.7V467.6M160.1 450.7h2.6M160.1 467.6h2.6M154.6 457.9v2.6M167.1 457.9v2.6M153.4 483.2H161.4M157.5 475.9V491.2M156.2 475.9h2.6M156.2 491.2h2.6M153.4 481.9v2.6M161.4 481.9v2.6M153.9 482.7H175.9M164.9 479.7V486.6M163.6 479.7h2.6M163.6 486.6h2.6M153.9 481.4v2.6M175.9 481.4v2.6M162.6 482.7H176.3M168.3 470.6V495.7M167.0 470.6h2.6M167.0 495.7h2.6M162.6 481.4v2.6M176.3 481.4v2.6M180.0 484.7H188.6M183.4 477.9V491.6M182.1 477.9h2.6M182.1 491.6h2.6M180.0 483.4v2.6M188.6 483.4v2.6M188.6 495.0H197.1M194.6 491.6V498.5M193.3 491.6h2.6M193.3 498.5h2.6M188.6 493.7v2.6M197.1 493.7v2.6M191.1 506.5H203.1M198.9 503.6V510.5M197.6 503.6h2.6M197.6 510.5h2.6M191.1 505.2v2.6M203.1 505.2v2.6M194.6 499.7H243.0M210.5 489.0V511.3M209.2 489.0h2.6M209.2 511.3h2.6M194.6 498.4v2.6M243.0 498.4v2.6M208.3 513.0H226.3M221.1 507.0V519.0M219.8 507.0h2.6M219.8 519.0h2.6M208.3 511.7v2.6M226.3 511.7v2.6M218.0 507.0H249.0M233.4 501.0V513.0M232.1 501.0h2.6M232.1 513.0h2.6M218.0 505.7v2.6M249.0 505.7v2.6M213.9 523.3H235.9M224.9 517.3V529.3M223.6 517.3h2.6M223.6 529.3h2.6M213.9 522.0v2.6M235.9 522.0v2.6M218.1 524.2H240.1M229.1 518.2V530.2M227.8 518.2h2.6M227.8 530.2h2.6M218.1 522.9v2.6M240.1 522.9v2.6M209.6 528.5H231.6M220.6 522.5V534.5M219.3 522.5h2.6M219.3 534.5h2.6M209.6 527.2v2.6M231.6 527.2v2.6M213.9 528.5H235.9M224.9 522.5V534.5M223.6 522.5h2.6M223.6 534.5h2.6M213.9 527.2v2.6M235.9 527.2v2.6M222.4 532.7H244.4M233.4 526.7V538.7M232.1 526.7h2.6M232.1 538.7h2.6M222.4 531.4v2.6M244.4 531.4v2.6M225.9 534.5H247.9M236.9 528.5V540.5M235.6 528.5h2.6M235.6 540.5h2.6M225.9 533.2v2.6M247.9 533.2v2.6M218.1 536.5H240.1M229.1 530.5V542.5M227.8 530.5h2.6M227.8 542.5h2.6M218.1 535.2v2.6M240.1 535.2v2.6M222.4 542.2H244.4M233.4 536.2V548.2M232.1 536.2h2.6M232.1 548.2h2.6M222.4 540.9v2.6M244.4 540.9v2.6M237.0 529.3H259.0M248.0 515.3V530.7M246.7 515.3h2.6M246.7 530.7h2.6M237.0 528.0v2.6M259.0 528.0v2.6M237.9 532.5H259.9M248.9 526.5V538.5M247.6 526.5h2.6M247.6 538.5h2.6M237.9 531.2v2.6M259.9 531.2v2.6M244.8 526.9H266.8M255.8 520.9V532.9M254.5 520.9h2.6M254.5 532.9h2.6M244.8 525.6v2.6M266.8 525.6v2.6M234.4 537.9H256.4M245.4 531.9V543.9M244.1 531.9h2.6M244.1 543.9h2.6M234.4 536.6v2.6M256.4 536.6v2.6M245.6 538.2H267.6M256.6 532.2V544.2M255.3 532.2h2.6M255.3 544.2h2.6M245.6 536.9v2.6M267.6 536.9v2.6M245.6 541.2H267.6M256.6 535.2V547.2M255.3 535.2h2.6M255.3 547.2h2.6M245.6 539.9v2.6M267.6 539.9v2.6M232.7 543.5H254.7M243.7 537.5V549.5M242.4 537.5h2.6M242.4 549.5h2.6M232.7 542.2v2.6M254.7 542.2v2.6M232.2 546.2H254.2M243.2 540.2V552.2M241.9 540.2h2.6M241.9 552.2h2.6M232.2 544.9v2.6M254.2 544.9v2.6M226.2 548.0H248.2M237.2 542.0V554.0M235.9 542.0h2.6M235.9 554.0h2.6M226.2 546.7v2.6M248.2 546.7v2.6M213.9 550.6H235.9M224.9 544.6V556.6M223.6 544.6h2.6M223.6 556.6h2.6M213.9 549.3v2.6M235.9 549.3v2.6M236.1 548.2H258.1M247.1 542.2V554.2M245.8 542.2h2.6M245.8 554.2h2.6M236.1 546.9v2.6M258.1 546.9v2.6M250.6 535.9H272.6M261.6 528.2V541.0M260.3 528.2h2.6M260.3 541.0h2.6M250.6 534.6v2.6M272.6 534.6v2.6M248.9 553.0H270.9M259.9 547.0V559.0M258.6 547.0h2.6M258.6 559.0h2.6M248.9 551.7v2.6M270.9 551.7v2.6M255.7 553.2H277.7M266.7 547.2V559.2M265.4 547.2h2.6M265.4 559.2h2.6M255.7 551.9v2.6M277.7 551.9v2.6M237.8 553.9H259.8M248.8 547.9V559.9M247.5 547.9h2.6M247.5 559.9h2.6M237.8 552.6v2.6M259.8 552.6v2.6M263.6 556.6H285.6M274.6 550.6V562.6M273.3 550.6h2.6M273.3 562.6h2.6M263.6 555.3v2.6M285.6 555.3v2.6M267.0 556.6H289.0M278.0 542.7V556.5M276.7 542.7h2.6M276.7 556.5h2.6M267.0 555.3v2.6M289.0 555.3v2.6M250.6 558.2H272.6M261.6 552.2V564.2M260.3 552.2h2.6M260.3 564.2h2.6M250.6 556.9v2.6M272.6 556.9v2.6M237.4 559.9H259.4M248.4 553.9V565.9M247.1 553.9h2.6M247.1 565.9h2.6M237.4 558.6v2.6M259.4 558.6v2.6M273.5 560.6H295.5M284.5 547.9V560.6M283.2 547.9h2.6M283.2 560.6h2.6M273.5 559.3v2.6M295.5 559.3v2.6M235.3 563.3H257.3M246.3 557.3V569.3M245.0 557.3h2.6M245.0 569.3h2.6M235.3 562.0v2.6M257.3 562.0v2.6M242.1 565.0H264.1M253.1 559.0V571.0M251.8 559.0h2.6M251.8 571.0h2.6M242.1 563.7v2.6M264.1 563.7v2.6M245.3 571.8H267.3M256.3 565.8V577.8M255.0 565.8h2.6M255.0 577.8h2.6M245.3 570.5v2.6M267.3 570.5v2.6M223.1 576.5H249.7M236.9 565.0V589.9M235.6 565.0h2.6M235.6 589.9h2.6M223.1 575.2v2.6M249.7 575.2v2.6M257.9 564.7H279.9M268.9 558.7V570.7M267.6 558.7h2.6M267.6 570.7h2.6M257.9 563.4v2.6M279.9 563.4v2.6M252.7 567.3H274.7M263.7 561.3V573.3M262.4 561.3h2.6M262.4 573.3h2.6M252.7 566.0v2.6M274.7 566.0v2.6M270.7 565.6H292.7M281.7 559.6V571.6M280.4 559.6h2.6M280.4 571.6h2.6M270.7 564.3v2.6M292.7 564.3v2.6M273.3 567.3H295.3M284.3 561.3V573.3M283.0 561.3h2.6M283.0 573.3h2.6M273.3 566.0v2.6M295.3 566.0v2.6M266.4 571.6H288.4M277.4 565.6V577.6M276.1 565.6h2.6M276.1 577.6h2.6M266.4 570.3v2.6M288.4 570.3v2.6M270.7 576.7H292.7M281.7 570.7V582.7M280.4 570.7h2.6M280.4 582.7h2.6M270.7 575.4v2.6M292.7 575.4v2.6M263.0 581.0H285.0M274.0 575.0V587.0M272.7 575.0h2.6M272.7 587.0h2.6M263.0 579.7v2.6M285.0 579.7v2.6M263.0 585.3H285.0M274.0 579.3V591.3M272.7 579.3h2.6M272.7 591.3h2.6M263.0 584.0v2.6M285.0 584.0v2.6M275.9 584.5H297.9M286.9 578.5V590.5M285.6 578.5h2.6M285.6 590.5h2.6M275.9 583.2v2.6M297.9 583.2v2.6M275.9 587.9H297.9M286.9 581.9V593.9M285.6 581.9h2.6M285.6 593.9h2.6M275.9 586.6v2.6M297.9 586.6v2.6M276.3 593.9H298.3M287.3 587.9V599.9M286.0 587.9h2.6M286.0 599.9h2.6M276.3 592.6v2.6M298.3 592.6v2.6M255.3 595.6H277.3M266.3 589.6V601.6M265.0 589.6h2.6M265.0 601.6h2.6M255.3 594.3v2.6M277.3 594.3v2.6M283.0 607.6H295.4M287.7 601.6V613.6M286.4 601.6h2.6M286.4 613.6h2.6M283.0 606.3v2.6M295.4 606.3v2.6M248.4 553.6H270.4M259.4 547.6V559.6M258.1 547.6h2.6M258.1 559.6h2.6M248.4 552.3v2.6M270.4 552.3v2.6M251.0 557.9H273.0M262.0 551.9V563.9M260.7 551.9h2.6M260.7 563.9h2.6M251.0 556.6v2.6M273.0 556.6v2.6M221.6 534.2H243.6M232.6 528.2V540.2M231.3 528.2h2.6M231.3 540.2h2.6M221.6 532.9v2.6M243.6 532.9v2.6M222.1 508.7H236.1M229.1 502.7V514.7M227.8 502.7h2.6M227.8 514.7h2.6M222.1 507.4v2.6M236.1 507.4v2.6M223.0 513.9H237.0M230.0 507.9V519.9M228.7 507.9h2.6M228.7 519.9h2.6M223.0 512.6v2.6M237.0 512.6v2.6M226.4 519.0H240.4M233.4 513.0V525.0M232.1 513.0h2.6M232.1 525.0h2.6M226.4 517.7v2.6M240.4 517.7v2.6M206.7 518.2H220.7M213.7 512.2V524.2M212.4 512.2h2.6M212.4 524.2h2.6M206.7 516.9v2.6M220.7 516.9v2.6M214.4 523.3H228.4M221.4 517.3V529.3M220.1 517.3h2.6M220.1 529.3h2.6M214.4 522.0v2.6M228.4 522.0v2.6M198.6 530.2H211.4M205.0 523.0V538.7M203.7 523.0h2.6M203.7 538.7h2.6M198.6 528.9v2.6M211.4 528.9v2.6M209.3 530.2H209.3M209.3 522.3V540.9M208.0 522.3h2.6M208.0 540.9h2.6M209.3 528.9v2.6M209.3 528.9v2.6M225.6 537.0H239.6M232.6 531.0V543.0M231.3 531.0h2.6M231.3 543.0h2.6M225.6 535.7v2.6M239.6 535.7v2.6M211.9 544.7H225.9M218.9 538.7V550.7M217.6 538.7h2.6M217.6 550.7h2.6M211.9 543.4v2.6M225.9 543.4v2.6M217.9 545.6H231.9M224.9 539.6V551.6M223.6 539.6h2.6M223.6 551.6h2.6M217.9 544.3v2.6M231.9 544.3v2.6M241.5 547.6H255.5M248.5 541.6V553.6M247.2 541.6h2.6M247.2 553.6h2.6M241.5 546.3v2.6M255.5 546.3v2.6M225.6 551.3H239.6M232.6 545.3V557.3M231.3 545.3h2.6M231.3 557.3h2.6M225.6 550.0v2.6M239.6 550.0v2.6M225.6 558.2H239.6M232.6 552.2V564.2M231.3 552.2h2.6M231.3 564.2h2.6M225.6 556.9v2.6M239.6 556.9v2.6M236.7 565.0H250.7M243.7 559.0V571.0M242.4 559.0h2.6M242.4 571.0h2.6M236.7 563.7v2.6M250.7 563.7v2.6" fill="none" stroke="#3a3a3a" stroke-width="0.8"/>
<path d="M180.9 482.2L185.9 487.2M185.9 482.2L180.9 487.2M226.6 506.2L231.6 511.2M231.6 506.2L226.6 511.2M227.5 511.4L232.5 516.4M232.5 511.4L227.5 516.4M230.9 516.5L235.9 521.5M235.9 516.5L230.9 521.5M211.2 515.7L216.2 520.7M216.2 515.7L211.2 520.7M218.9 520.8L223.9 525.8M223.9 520.8L218.9 525.8M202.5 527.7L207.5 532.7M207.5 527.7L202.5 532.7M206.8 527.7L211.8 532.7M211.8 527.7L206.8 532.7M230.1 534.5L235.1 539.5M235.1 534.5L230.1 539.5M216.4 542.2L221.4 547.2M221.4 542.2L216.4 547.2M222.4 543.1L227.4 548.1M227.4 543.1L222.4 548.1M246.0 545.1L251.0 550.1M251.0 545.1L246.0 550.1M230.1 548.8L235.1 553.8M235.1 548.8L230.1 553.8M230.1 555.7L235.1 560.7M235.1 555.7L230.1 560.7M241.2 562.5L246.2 567.5M246.2 562.5L241.2 567.5" fill="none" stroke="#f06a6a" stroke-width="1"/>
<circle cx="183.4" cy="484.7" r="0.9" fill="#700"/><circle cx="229.1" cy="508.7" r="0.9" fill="#700"/><circle cx="230.0" cy="513.9" r="0.9" fill="#700"/><circle cx="233.4" cy="519.0" r="0.9" fill="#700"/><circle cx="213.7" cy="518.2" r="0.9" fill="#700"/><circle cx="221.4" cy="523.3" r="0.9" fill="#700"/><circle cx="205.0" cy="530.2" r="0.9" fill="#700"/><circle cx="209.3" cy="530.2" r="0.9" fill="#700"/><circle cx="232.6" cy="537.0" r="0.9" fill="#700"/><circle cx="218.9" cy="544.7" r="0.9" fill="#700"/><circle cx="224.9" cy="545.6" r="0.9" fill="#700"/><circle cx="248.5" cy="547.6" r="0.9" fill="#700"/><circle cx="232.6" cy="551.3" r="0.9" fill="#700"/><circle cx="232.6" cy="558.2" r="0.9" fill="#700"/><circle cx="243.7" cy="565.0" r="0.9" fill="#700"/>
<path d="M95.4 415.4L98.0 419.8L92.8 419.8ZM129.1 436.3L131.7 440.7L126.5 440.7ZM161.4 456.6L164.0 461.0L158.8 461.0ZM157.5 480.6L160.1 485.0L154.9 485.0ZM164.9 480.1L167.5 484.5L162.3 484.5ZM168.3 480.1L170.9 484.5L165.7 484.5ZM194.6 492.4L197.2 496.8L192.0 496.8ZM198.9 503.9L201.5 508.3L196.3 508.3ZM210.5 497.1L213.1 501.5L207.9 501.5ZM221.1 510.4L223.7 514.8L218.5 514.8ZM233.4 504.4L236.0 508.8L230.8 508.8ZM224.9 520.7L227.5 525.1L222.3 525.1ZM229.1 521.6L231.7 526.0L226.5 526.0ZM220.6 525.9L223.2 530.3L218.0 530.3ZM224.9 525.9L227.5 530.3L222.3 530.3ZM233.4 530.1L236.0 534.5L230.8 534.5ZM236.9 531.9L239.5 536.3L234.3 536.3ZM229.1 533.9L231.7 538.3L226.5 538.3ZM233.4 539.6L236.0 544.0L230.8 544.0ZM248.0 526.7L250.6 531.1L245.4 531.1ZM248.9 529.9L251.5 534.3L246.3 534.3ZM255.8 524.3L258.4 528.7L253.2 528.7ZM245.4 535.3L248.0 539.7L242.8 539.7ZM256.6 535.6L259.2 540.0L254.0 540.0ZM256.6 538.6L259.2 543.0L254.0 543.0ZM243.7 540.9L246.3 545.3L241.1 545.3ZM243.2 543.6L245.8 548.0L240.6 548.0ZM237.2 545.4L239.8 549.8L234.6 549.8ZM224.9 548.0L227.5 552.4L222.3 552.4ZM247.1 545.6L249.7 550.0L244.5 550.0ZM261.6 533.3L264.2 537.7L259.0 537.7ZM259.9 550.4L262.5 554.8L257.3 554.8ZM266.7 550.6L269.3 555.0L264.1 555.0ZM248.8 551.3L251.4 555.7L246.2 555.7ZM274.6 554.0L277.2 558.4L272.0 558.4ZM278.0 554.0L280.6 558.4L275.4 558.4ZM261.6 555.6L264.2 560.0L259.0 560.0ZM248.4 557.3L251.0 561.7L245.8 561.7ZM284.5 558.0L287.1 562.4L281.9 562.4ZM246.3 560.7L248.9 565.1L243.7 565.1ZM253.1 562.4L255.7 566.8L250.5 566.8ZM256.3 569.2L258.9 573.6L253.7 573.6ZM236.9 573.9L239.5 578.3L234.3 578.3ZM268.9 562.1L271.5 566.5L266.3 566.5ZM263.7 564.7L266.3 569.1L261.1 569.1ZM281.7 563.0L284.3 567.4L279.1 567.4ZM284.3 564.7L286.9 569.1L281.7 569.1ZM277.4 569.0L280.0 573.4L274.8 573.4ZM281.7 574.1L284.3 578.5L279.1 578.5ZM274.0 578.4L276.6 582.8L271.4 582.8ZM274.0 582.7L276.6 587.1L271.4 587.1ZM286.9 581.9L289.5 586.3L284.3 586.3ZM286.9 585.3L289.5 589.7L284.3 589.7ZM287.3 591.3L289.9 595.7L284.7 595.7ZM266.3 593.0L268.9 597.4L263.7 597.4ZM287.7 605.0L290.3 609.4L285.1 609.4ZM259.4 551.0L262.0 555.4L256.8 555.4ZM262.0 555.3L264.6 559.7L259.4 559.7ZM232.6 531.6L235.2 536.0L230.0 536.0ZM248.3 609.3L250.9 613.7L245.7 613.7Z" fill="#0000dc" stroke="none"/>
<path d="M248.3 611.9000000000001V591.9000000000001M248.3 611.9000000000001H226.3" fill="none" stroke="#333" stroke-width="0.8"/>
<path d="M248.3 591.6000000000001L246.0 599.9000000000001L248.3 597.4000000000001L250.60000000000002 599.9000000000001Z M226.0 611.9000000000001L234.8 609.7L232.3 611.9000000000001L234.8 614.1000000000001Z" fill="#222" stroke="#222" stroke-width="0.3"/>
</g>
<text x="159.3" y="32.0" class="tt" textLength="167.6" lengthAdjust="spacingAndGlyphs">D'Antona and Mazzitelli (97,98)</text>
<text x="226.9" y="54.9" class="tt" textLength="64" lengthAdjust="spacingAndGlyphs">429 parsecs</text>
<text x="227.5" y="396.4" class="tt" textLength="98" lengthAdjust="spacingAndGlyphs">Siess et al. (2000)</text>
<text x="240.6" y="408.7" class="tt" textLength="63.4" lengthAdjust="spacingAndGlyphs">429 parsecs</text>
</svg></body></html>
